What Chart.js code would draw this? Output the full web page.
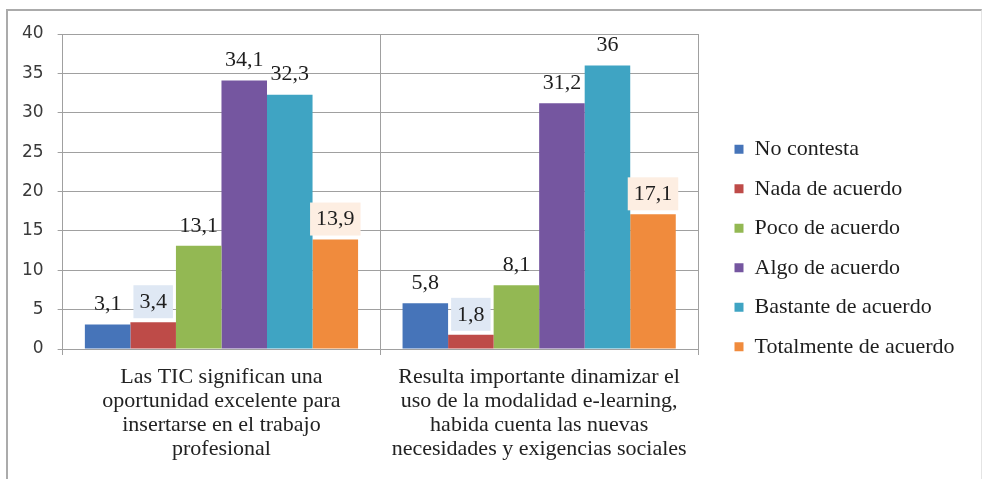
<!DOCTYPE html>
<html>
<head>
<meta charset="utf-8">
<script src="https://cdn.jsdelivr.net/npm/chart.js@4"></script>
<style>
  body { margin: 0; background: #fff; }
  #wrap { position: relative; width: 986px; height: 479px; }
  #frame {
    position: absolute; left: 6px; top: 9px; width: 973px; height: 480px;
    border-top: 2px solid #ababab; border-left: 2px solid #ababab; border-right: 1px solid #e4e4e4;
    pointer-events: none;
  }
</style>
</head>
<body>
<div id="wrap">
  <canvas id="myChart1" width="986" height="479"></canvas>
  <div id="frame"></div>
</div>
<script>
var categories = [
    ['Las TIC significan una', 'oportunidad excelente para', 'insertarse en el trabajo', 'profesional'],
    ['Resulta importante dinamizar el', 'uso de la modalidad e-learning,', 'habida cuenta las nuevas', 'necesidades y exigencias sociales']
];
var seriesNames = ['No contesta', 'Nada de acuerdo', 'Poco de acuerdo', 'Algo de acuerdo', 'Bastante de acuerdo', 'Totalmente de acuerdo'];
var noContesta = [3.1, 5.8];
var nadaDeAcuerdo = [3.4, 1.8];
var pocoDeAcuerdo = [13.1, 8.1];
var algoDeAcuerdo = [34.1, 31.2];
var bastanteDeAcuerdo = [32.3, 36];
var totalmenteDeAcuerdo = [13.9, 17.1];
var yTicks = [0, 5, 10, 15, 20, 25, 30, 35, 40];

var seriesValues = [noContesta, nadaDeAcuerdo, pocoDeAcuerdo, algoDeAcuerdo, bastanteDeAcuerdo, totalmenteDeAcuerdo];
var barColors = ['#4674b9', '#be4b48', '#93b853', '#7556a0', '#3fa4c3', '#f08b3d'];
// some value labels sit on a tinted box
var labelFills = [null, '#dfe8f4', null, null, null, '#fdeee2'];

var serif = '"Liberation Serif", "Times New Roman", serif';

// draws the value above every bar
var valueLabels = {
    id: 'valueLabels',
    afterDatasetsDraw: function (chart) {
        var ctx = chart.ctx;
        ctx.save();
        ctx.font = '22px ' + serif;
        ctx.textAlign = 'center';
        ctx.textBaseline = 'middle';
        chart.data.datasets.forEach(function (ds, i) {
            chart.getDatasetMeta(i).data.forEach(function (bar, j) {
                var txt = String(ds.data[j]).replace('.', ',');
                var y = bar.y - 21;
                if (labelFills[i]) {
                    var w = ctx.measureText(txt).width + 12;
                    ctx.fillStyle = labelFills[i];
                    ctx.fillRect(bar.x - w / 2, y - 16, w, 33);
                }
                ctx.fillStyle = '#1e1e1e';
                ctx.fillText(txt, bar.x, y + 1);
            });
        });
        ctx.restore();
    }
};

// the layout caps side boxes at a fraction of the width, so give the legend a fixed one
var legendWidth = {
    id: 'legendWidth',
    beforeInit: function (chart) {
        var fit = chart.legend.fit;
        chart.legend.fit = function () {
            fit.call(this);
            this.width = 257;
        };
    }
};

var ctx = document.getElementById('myChart1').getContext('2d');

var myChart = new Chart(ctx, {
    type: 'bar',
    data: {
        labels: categories,
        datasets: seriesNames.map(function (name, i) {
            return {
                label: name,
                data: seriesValues[i],
                backgroundColor: barColors[i],
                borderWidth: 0,
                categoryPercentage: 0.86,
                barPercentage: 1.0
            };
        })
    },
    options: {
        responsive: false,
        animation: false,
        layout: {
            padding: { left: 8, top: 34, bottom: 17, right: 12 }
        },
        scales: {
            x: {
                grid: { color: '#a0a0a0', tickLength: 6, offset: true },
                border: { color: '#a0a0a0' },
                ticks: {
                    color: '#222',
                    font: { family: serif, size: 22, lineHeight: 1.1 },
                    padding: 10,
                    maxRotation: 0,
                    autoSkip: false
                },
                afterFit: function (scale) { scale.height = 113; }
            },
            y: {
                min: 0,
                max: 40,
                afterBuildTicks: function (scale) {
                    scale.ticks = yTicks.map(function (v) { return { value: v }; });
                },
                grid: { color: '#a0a0a0', tickLength: 5 },
                border: { color: '#a0a0a0' },
                ticks: {
                    color: '#3a3a3a',
                    font: { family: '"DejaVu Sans", Verdana, sans-serif', size: 17 },
                    padding: 14
                }
            },
            // empty strip between the plot and the legend
            gap: {
                type: 'linear',
                position: 'right',
                display: true,
                grid: { display: false },
                border: { display: false },
                ticks: { display: false },
                afterFit: function (scale) { scale.width = 19; }
            }
        },
        plugins: {
            legend: {
                position: 'right',
                align: 'center',
                labels: {
                    boxWidth: 9,
                    boxHeight: 9,
                    padding: 17.5,
                    color: '#1e1e1e',
                    font: { family: serif, size: 22 }
                }
            },
            tooltip: { enabled: false }
        }
    },
    plugins: [valueLabels, legendWidth]
});
</script>
</body>
</html>
